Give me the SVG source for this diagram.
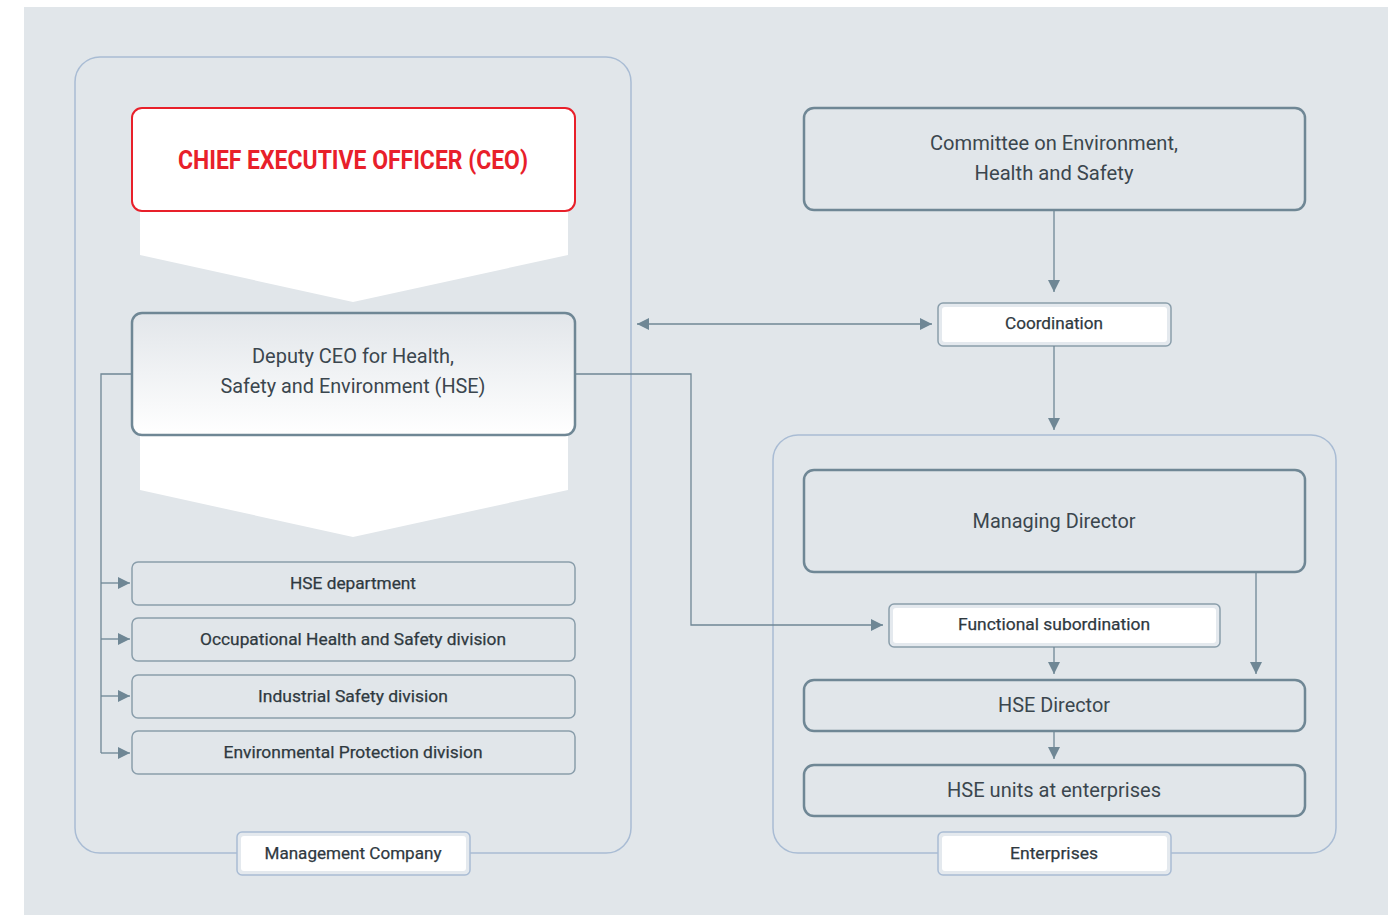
<svg xmlns="http://www.w3.org/2000/svg" width="1392" height="915" viewBox="0 0 1392 915">
  <defs>
    <style>
      .t { font-family: Roboto, "Liberation Sans", sans-serif; fill: #3b464e; text-anchor: middle; }
      .big { font-size: 20px; font-weight: 400; }
      .small { font-size: 17px; font-weight: 400; fill: #2f393f; stroke: #2f393f; stroke-width: 0.25; }
      .ceo { font-family: Roboto, "Liberation Sans", sans-serif; font-size: 25px; font-weight: 700; fill: #e8202a; text-anchor: middle; }
      .container { fill: none; stroke: #a9bcd4; stroke-width: 1.5; }
      .box { fill: none; stroke: #6f8795; stroke-width: 2.5; }
      .unit { fill: none; stroke: #8a9eab; stroke-width: 1.5; }
      .tagOuter { fill: #e4e9ee; stroke: #a9bcd4; stroke-width: 1.5; }
      .tagGrey { fill: #e4e9ee; stroke: #8a9eab; stroke-width: 1.5; }
      .tagInner { fill: #ffffff; }
      .chev { fill: #ffffff; }
      .link { fill: none; stroke: #6f8795; stroke-width: 1.3; }
    </style>
    <linearGradient id="deputyFill" x1="0" y1="0" x2="0" y2="1">
      <stop offset="0" stop-color="#e2e6ea"/>
      <stop offset="1" stop-color="#ffffff"/>
    </linearGradient>
    <marker id="arrow" viewBox="0 0 10 10" refX="10" refY="5" markerWidth="12" markerHeight="12" markerUnits="userSpaceOnUse" orient="auto-start-reverse">
      <path d="M0,0 L10,5 L0,10 Z" fill="#6f8795"/>
    </marker>
  </defs>

  <!-- backdrop -->
  <rect x="24" y="7" width="1364" height="908" fill="#e1e6ea"/>

  <!-- group frames -->
  <g id="management-company">
    <rect class="container" x="75" y="57" width="556" height="796" rx="25"/>
    <rect class="tagOuter" x="237" y="832" width="233" height="43" rx="5"/>
    <rect class="tagInner" x="241" y="836" width="225" height="35" rx="3"/>
    <text class="t small" x="353" y="859" textLength="177" lengthAdjust="spacingAndGlyphs">Management Company</text>
  </g>

  <g id="enterprises">
    <rect class="container" x="773" y="435" width="563" height="418" rx="25"/>
    <rect class="tagOuter" x="938" y="832" width="233" height="43" rx="5"/>
    <rect class="tagInner" x="942" y="836" width="225" height="35" rx="3"/>
    <text class="t small" x="1054" y="859" textLength="88" lengthAdjust="spacingAndGlyphs">Enterprises</text>
  </g>

  <!-- downward chevrons under the top two boxes -->
  <polygon class="chev" points="140,205 568,205 568,255 353,302 140,255"/>
  <polygon class="chev" points="140,430 568,430 568,490 353,537 140,490"/>

  <g id="ceo">
    <rect x="132" y="108" width="443" height="103" rx="10" fill="#ffffff" stroke="#e8202a" stroke-width="2"/>
    <text class="ceo" x="353" y="169" textLength="350" lengthAdjust="spacingAndGlyphs">CHIEF EXECUTIVE OFFICER (CEO)</text>
  </g>

  <g id="deputy-ceo">
    <rect x="132" y="313" width="443" height="122" rx="10" fill="url(#deputyFill)" stroke="#6f8795" stroke-width="2.5"/>
    <text class="t big" x="353" y="363" textLength="202" lengthAdjust="spacingAndGlyphs">Deputy CEO for Health,</text>
    <text class="t big" x="353" y="393" textLength="265" lengthAdjust="spacingAndGlyphs">Safety and Environment (HSE)</text>
  </g>

  <g id="hse-department">
    <rect class="unit" x="132" y="562" width="443" height="43" rx="6"/>
    <text class="t small" x="353" y="589" textLength="126" lengthAdjust="spacingAndGlyphs">HSE department</text>
  </g>
  <g id="ohs-division">
    <rect class="unit" x="132" y="618" width="443" height="43" rx="6"/>
    <text class="t small" x="353" y="645" textLength="306" lengthAdjust="spacingAndGlyphs">Occupational Health and Safety division</text>
  </g>
  <g id="industrial-safety-division">
    <rect class="unit" x="132" y="675" width="443" height="43" rx="6"/>
    <text class="t small" x="353" y="702" textLength="190" lengthAdjust="spacingAndGlyphs">Industrial Safety division</text>
  </g>
  <g id="environmental-protection-division">
    <rect class="unit" x="132" y="731" width="443" height="43" rx="6"/>
    <text class="t small" x="353" y="758" textLength="259" lengthAdjust="spacingAndGlyphs">Environmental Protection division</text>
  </g>

  <g id="committee">
    <rect class="box" x="804" y="108" width="501" height="102" rx="10"/>
    <text class="t big" x="1054" y="150" textLength="248" lengthAdjust="spacingAndGlyphs">Committee on Environment,</text>
    <text class="t big" x="1054" y="180" textLength="159" lengthAdjust="spacingAndGlyphs">Health and Safety</text>
  </g>

  <g id="coordination">
    <rect class="tagGrey" x="938" y="303" width="233" height="43" rx="5"/>
    <rect class="tagInner" x="942" y="307" width="225" height="35" rx="3"/>
    <text class="t small" x="1054" y="329" textLength="98" lengthAdjust="spacingAndGlyphs">Coordination</text>
  </g>

  <g id="managing-director">
    <rect class="box" x="804" y="470" width="501" height="102" rx="10"/>
    <text class="t big" x="1054" y="528" textLength="163" lengthAdjust="spacingAndGlyphs">Managing Director</text>
  </g>

  <g id="functional-subordination">
    <rect class="tagGrey" x="889" y="604" width="331" height="43" rx="5"/>
    <rect class="tagInner" x="893" y="608" width="323" height="35" rx="3"/>
    <text class="t small" x="1054" y="630" textLength="192" lengthAdjust="spacingAndGlyphs">Functional subordination</text>
  </g>

  <g id="hse-director">
    <rect class="box" x="804" y="680" width="501" height="51" rx="10"/>
    <text class="t big" x="1054" y="712" textLength="112" lengthAdjust="spacingAndGlyphs">HSE Director</text>
  </g>

  <g id="hse-units">
    <rect class="box" x="804" y="765" width="501" height="51" rx="10"/>
    <text class="t big" x="1054" y="797" textLength="214" lengthAdjust="spacingAndGlyphs">HSE units at enterprises</text>
  </g>

  <!-- connectors -->
  <g id="connectors">
    <!-- deputy CEO to its divisions -->
    <path class="link" d="M132,374 H101 V753"/>
    <path class="link" d="M101,583 H130" marker-end="url(#arrow)"/>
    <path class="link" d="M101,639 H130" marker-end="url(#arrow)"/>
    <path class="link" d="M101,696 H130" marker-end="url(#arrow)"/>
    <path class="link" d="M101,753 H130" marker-end="url(#arrow)"/>
    <!-- deputy CEO to functional subordination -->
    <path class="link" d="M575,374 H691 V625 H883" marker-end="url(#arrow)"/>
    <!-- management company and coordination, both ways -->
    <path class="link" d="M637,324 H932" marker-start="url(#arrow)" marker-end="url(#arrow)"/>
    <!-- committee chain -->
    <path class="link" d="M1054,210 V292" marker-end="url(#arrow)"/>
    <path class="link" d="M1054,346 V430" marker-end="url(#arrow)"/>
    <!-- within enterprises -->
    <path class="link" d="M1054,647 V674" marker-end="url(#arrow)"/>
    <path class="link" d="M1256,572 V674" marker-end="url(#arrow)"/>
    <path class="link" d="M1054,731 V759" marker-end="url(#arrow)"/>
  </g>
</svg>
